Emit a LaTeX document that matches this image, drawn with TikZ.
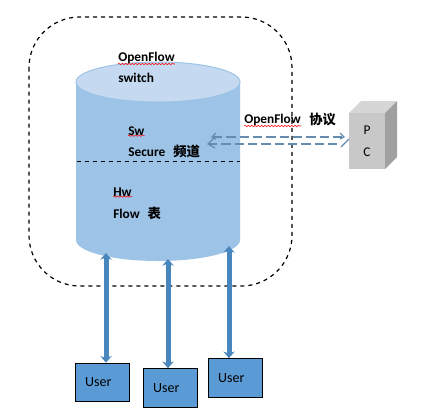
\documentclass[tikz,border=0pt]{standalone}
\usepackage{fontspec}
\setmainfont{Carlito}
\newfontfamily\cjk{Noto Sans CJK SC}
\usepackage{xcolor}
\usetikzlibrary{arrows.meta,decorations.pathmorphing}
\definecolor{cylblue}{RGB}{157,195,230}
\definecolor{cyltop}{RGB}{197,218,240}
\definecolor{userblue}{RGB}{91,155,213}
\definecolor{linkblue}{RGB}{74,134,190}
\definecolor{protoblue}{RGB}{102,140,175}
\definecolor{pcfront}{RGB}{200,200,200}
\definecolor{pctop}{RGB}{214,214,214}
\definecolor{pcside}{RGB}{160,160,160}

\begin{document}
\begin{tikzpicture}[
x=0.75pt, y=-0.75pt,
lbl/.style={anchor=west, inner sep=0pt, font=\fontsize{10}{12}\selectfont\bfseries},
spell/.style={red, line width=0.4pt, decorate, decoration={snake, amplitude=0.5pt, segment length=2.5pt}},
userbox/.style={draw=black, fill=userblue, line width=0.75pt, text width=41pt, minimum height=29pt, inner sep=0pt, align=left, font=\fontsize{10.5}{12}\selectfont, execute at begin node=\hspace*{7.5pt}},
link/.style={{Stealth[length=5pt,width=8.5pt]}-{Stealth[length=5pt,width=8.5pt]}, line width=3.75pt, linkblue},
proto/.style={protoblue, line width=0.9pt, dash pattern=on 7pt off 3pt},
tip/.style={protoblue, line width=0.9pt}
]
\useasboundingbox (0,0) rectangle (423,412);

% outer frame
\draw[dashed, line width=0.9pt, rounded corners=38pt] (29,17) rectangle (292,286);

% switch body
\fill[cylblue] (76,82) -- (76,240) arc[start angle=180, end angle=0, x radius=82, y radius=21] -- (240,82) -- cycle;
\draw[cylblue, line width=0.75pt, fill=cyltop] (158,82) ellipse[x radius=82, y radius=20];
\coordinate (left) at (77,161);
\coordinate (right) at (240,161);
\draw[dashed, line width=0.6pt] (left) -- (right);

\node[lbl] (of1) at (118,58) {OpenFlow};
\node[lbl] (sw1) at (118,78) {switch};
\node[lbl] (sw2) at (128,131) {Sw};
\node[lbl] (sec) at (128,151) {Secure\hspace{6pt}{\cjk 频道}};
\node[lbl] (hw) at (113,192) {Hw};
\node[lbl] (flow) at (113,213) {Flow\hspace{6pt}{\cjk 表}};
\node[lbl] (of2) at (244,120) {OpenFlow};
\node[lbl, right=6pt] (proto) at (of2.east) {\cjk 协议};

\draw[spell] (of1.south west) -- (of1.south east);
\draw[spell] (sw2.south west) -- (sw2.south east);
\draw[spell] (hw.south west) -- (hw.south east);
\draw[spell] (of2.south west) -- (of2.south east);

% pc
\fill[pctop] (349,113) -- (361,101) -- (397,101) -- (385,113) -- cycle;
\fill[pcside] (385,113) -- (397,101) -- (397,157) -- (385,169) -- cycle;
\node[fill=pcfront, minimum width=27pt, minimum height=42pt, inner sep=0pt, align=center, font=\fontsize{10}{16.5}\selectfont] (pc) at (367,141) {P\\C};

% protocol arrow
\coordinate (a1) at (213,137);
\coordinate (a2) at (343,137);
\coordinate (b1) at (208,144);
\coordinate (b2) at (341,144);
\draw[proto] (a1) -- (a2);
\draw[proto] (b1) -- (b2);
\draw[tip] (216,133) -- (212,137) -- (216,139);
\draw[tip] (340,133) -- (344,137) -- (340,139);
\draw[tip] (215,137) -- (208,144) -- (215,148);
\draw[tip] (341,147) -- (349,139);

% users
\node[userbox] (u1) at (102.5,382.5) {User};
\node[userbox] (u2) at (170.5,388) {User};
\node[userbox] (u3) at (235.5,378) {User};

\coordinate (t1) at (106,253);
\coordinate (t2) at (168,259);
\coordinate (t3) at (229,246);
\draw[link] (t1) -- (u1.north -| t1);
\draw[link] (t2) -- (u2.north -| t2);
\draw[link] (t3) -- (u3.north -| t3);
\end{tikzpicture}
\end{document}
